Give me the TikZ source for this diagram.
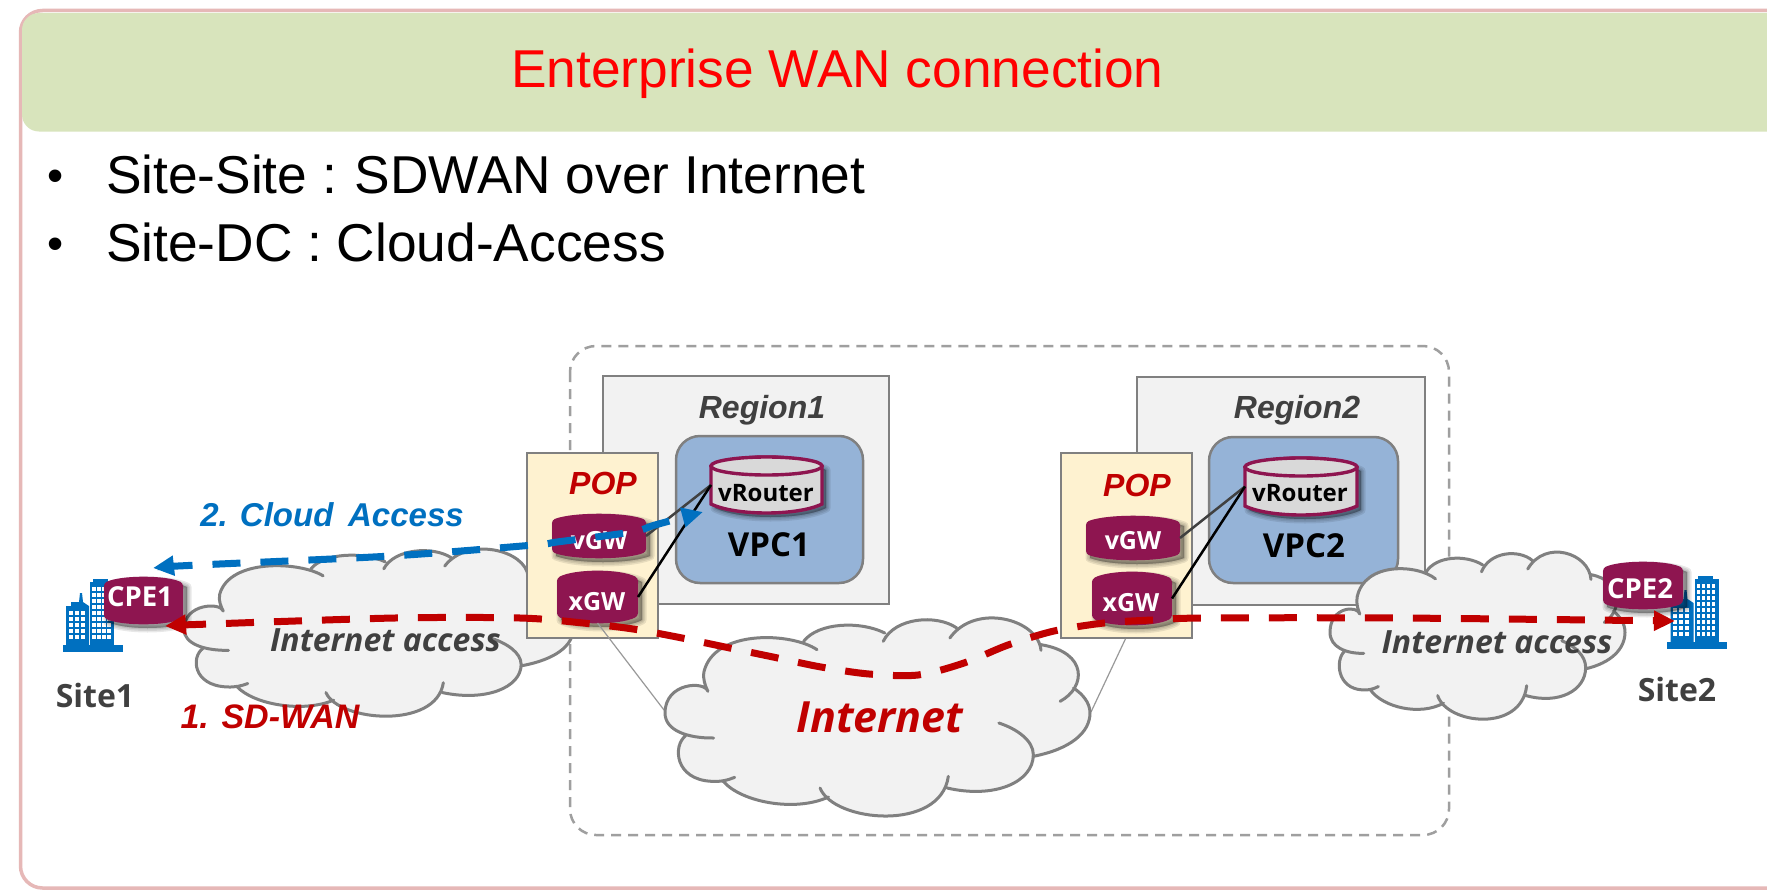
\documentclass[tikz,border=0pt]{standalone}
\usepackage{fontspec}
\setmainfont{Liberation Sans}
\newfontfamily\mg{Open Sans}
\usetikzlibrary{arrows.meta}
\definecolor{wine}{HTML}{8E1550}
\definecolor{darkred}{HTML}{C00000}
\definecolor{blu}{HTML}{0070C0}
\definecolor{grayln}{HTML}{808080}
\definecolor{grayfill}{HTML}{F2F2F2}
\definecolor{txtgray}{HTML}{404040}
\definecolor{vpcblue}{HTML}{95B3D7}
\definecolor{popfill}{HTML}{FEF2D0}
\definecolor{headgreen}{HTML}{D8E4BC}
\definecolor{framepink}{HTML}{E6B8B7}
\newcommand{\fsz}[1]{\fontsize{#1}{#1}\selectfont}
\tikzset{
  x=1pt,y=-1pt,
  boxregion/.style={draw=grayln,fill=grayfill,line width=2.5pt},
  boxvpc/.style={draw=grayln,fill=vpcblue,line width=2.5pt,rounded corners=24pt},
  boxpop/.style={draw=grayln,fill=popfill,line width=2.5pt},
  cloudline/.style={draw=grayln,line width=3pt,line cap=round},
  lbl/.style={inner sep=0pt,outer sep=0pt,align=center},
  cyltext/.style={lbl,text=white,font=\mg\bfseries\fsz{25}},
  routertext/.style={lbl,text=black,font=\mg\bfseries\fsz{24}},
  cpetext/.style={lbl,text=white,font=\mg\bfseries\fsz{27.5}},
  sitetext/.style={lbl,text=txtgray,font=\mg\bfseries\fsz{32}},
  vpctext/.style={lbl,text=black,font=\mg\bfseries\fsz{33}},
  regiontext/.style={lbl,text=txtgray,font=\bfseries\itshape\fsz{32}},
  poptext/.style={lbl,text=darkred,font=\bfseries\itshape\fsz{32}},
  accesstext/.style={lbl,text=txtgray,font=\mg\itshape\bfseries\fsz{32}},
  bodytext/.style={inner sep=0pt,outer sep=0pt,anchor=base west,font=\fsz{53.3}},
  bullettext/.style={inner sep=0pt,outer sep=0pt,anchor=base west,font=\fsz{46}},
  wan/.style={line width=7pt,dash pattern=on 28pt off 20pt,{Triangle[length=21pt,width=19pt]}-{Triangle[length=21pt,width=19pt]}},
  thinline/.style={draw=gray!80,line width=1.2pt},
}
% cylinder: x1 y1 x2 y2 bulge
\newcommand{\cylpath}[5]{%
  \pgfmathsetmacro{\cA}{#2+#5}\pgfmathsetmacro{\cB}{#4-#5}%
  \pgfmathsetmacro{\cT}{#2-#5/3}\pgfmathsetmacro{\cU}{#4+#5/3}%
  \pgfmathsetmacro{\cL}{#1+(#3-#1)*.22}\pgfmathsetmacro{\cR}{#3-(#3-#1)*.22}%
  \def\cylshape{(#1,\cA) .. controls (\cL,\cT) and (\cR,\cT) .. (#3,\cA) -- (#3,\cB) .. controls (\cR,\cU) and (\cL,\cU) .. (#1,\cB) -- cycle}%
}
\newcommand{\cylshadow}{%
  \foreach \sw in {9,6,3,0.5}{
    \path[fill=black,draw=black,line width=\sw pt,opacity=.09,line join=round,xshift=4pt,yshift=-4pt] \cylshape;
  }
}
\newcommand{\cylsolid}[5]{%
  \cylpath{#1}{#2}{#3}{#4}{#5}\cylshadow
  \path[fill=wine,rounded corners=3pt] \cylshape;
}
\newcommand{\cylrouter}[5]{%
  \cylpath{#1}{#2}{#3}{#4}{#5}\cylshadow
  \path[fill=gray!30,draw=wine,line width=3.4pt] \cylshape;
  \pgfmathsetmacro{\cM}{(#1+#3)/2}\pgfmathsetmacro{\cE}{(#3-#1)/2}\pgfmathsetmacro{\cY}{#2+#5}%
  \path[draw=wine,line width=3.4pt,fill=gray!30] (\cM,\cY) ellipse [x radius=\cE,y radius=#5];
}
% cloud
\def\cloudlobes{%
 (112,217) .. controls (104,185) and (0,190) .. (0,282) .. controls (0,335) and (60,358) .. (127,357)
 (54,350) .. controls (20,380) and (25,482) .. (122,487) .. controls (145,489) and (165,483) .. (182,475)
 (152,487) .. controls (200,550) and (340,580) .. (427,534)
 (405,507) .. controls (440,610) and (720,640) .. (740,472)
 (737,507) .. controls (860,540) and (962,490) .. (962,407) .. controls (962,365) and (920,330) .. (872,312)
 (962,412) .. controls (1060,390) and (1110,340) .. (1110,282) .. controls (1110,250) and (1090,225) .. (1067,207)
 (1032,247) .. controls (1100,205) and (1105,100) .. (982,77)
 (982,94) .. controls (975,0) and (810,-50) .. (744,57)
 (762,27) .. controls (710,-15) and (600,-5) .. (570,67)
 (574,42) .. controls (510,5) and (400,10) .. (362,67)
 (397,92) .. controls (330,40) and (130,30) .. (102,157) .. controls (98,180) and (105,200) .. (112,217)
}
\newcommand{\cloudat}[4]{%
  \pgfmathsetmacro{\csx}{#3/1110}\pgfmathsetmacro{\csy}{#4/594}%
  \begin{scope}[shift={(#1,#2)},xscale=\csx,yscale=\csy]
    \fill[grayfill] (0,282) -- (17,327) -- (54,350) -- (30,382) -- (72,467) -- (152,487) -- (312,556) -- (427,534) -- (572,594) -- (737,507) -- (892,502) -- (962,412) -- (1097,337) -- (1110,282) -- (1067,207) -- (1082,167) -- (982,77) -- (922,12) -- (762,27) -- (682,5) -- (574,42) -- (472,20) -- (362,67) -- (272,52) -- (102,157) -- (104,197) -- cycle;
    \path[fill=grayfill] \cloudlobes;
    \path[cloudline] \cloudlobes;
  \end{scope}
}
% building icon
\newcommand{\towers}[2]{%
  \begin{scope}[shift={(#1,#2)}]
    \fill[blu] (62.5,645) rectangle (122.6,652);
    \fill[blu] (66,645) -- (66,606) -- (71,606) -- (71,602) -- (79,602) -- (80,593) -- (82,593) -- (83,602) -- (89,606) -- (89,645) -- cycle;
    \fill[blu] (90,645) rectangle (114,582);
    \fill[blu] (93,582) rectangle (108,579);
    \foreach \wy in {611,617,623,629,635}{\foreach \wx in {68.5,74.5,80.5}{\fill[white] (\wx,\wy) rectangle ++(4,4);}}
    \foreach \wy in {587,593,599,605,611,617,623,629,635}{\foreach \wx in {92,97,102,107}{\fill[white] (\wx,\wy) rectangle ++(3.5,4);}}
  \end{scope}
}
\begin{document}
\begin{tikzpicture}
\path[use as bounding box] (0,0) rectangle (1767,891);
\clip (0,0) rectangle (1767,891);
\fill[white] (0,0) rectangle (1767,891);
% frame & header
\path[draw=framepink,line width=3.5pt,rounded corners=22pt] (20.5,10.5) rectangle (1800,888);
\path[fill=headgreen,rounded corners=17pt] (22,13) rectangle (1800,131.5);
\node[bodytext,text=red] (title) at (511,87.5) {Enterprise WAN connection};
\node[bullettext] (b1) at (47,191.5) {•};
\node[bodytext] (l1) at (106,193) {Site-Site :\hspace{-2pt} SDWAN over Internet};
\node[bullettext] (b2) at (47,259.5) {•};
\node[bodytext] (l2) at (106,261) {Site-DC : Cloud-Access};
% cloud boundary
\path[draw=gray!75,line width=2.5pt,dash pattern=on 10pt off 7pt,rounded corners=26pt] (570,346) rectangle (1449,835);
% regions
\path[boxregion] (603,376) rectangle (889,604);
\path[boxregion] (1137,377) rectangle (1425,605);
\node[regiontext] (reg1) at (762,410) {Region1};
\node[regiontext] (reg2) at (1297,410) {Region2};
\path[boxvpc] (676,436) rectangle (863,583);
\path[boxvpc] (1209,437) rectangle (1398,583);
\node[vpctext] (vpc1) at (769,545) {VPC1};
\node[vpctext] (vpc2) at (1304,546) {VPC2};
\cylrouter{711}{457}{822}{513}{9}
\cylrouter{1245}{458}{1357}{515}{9}
\node[routertext,minimum width=111pt,minimum height=56pt,text height=0pt,text depth=0pt] (vr1) at (766.5,485) {};
\node[routertext,minimum width=112pt,minimum height=57pt,text height=0pt,text depth=0pt] (vr2) at (1301,486.5) {};
\node[routertext] (vr1t) at (766,493) {vRouter};
\node[routertext] (vr2t) at (1300,493) {vRouter};
% lines behind POP2
\coordinate (xgwTwoFoot) at (1132,625);
\coordinate (inetRight) at (1091,712);
\draw[thinline] (xgwTwoFoot) -- (inetRight);
% access clouds
\cloudat{184}{550}{389}{167}
\cloudat{1330}{553}{295}{167}
% POPs
\path[boxpop] (527,453) rectangle (658,638);
\path[boxpop] (1061,453) rectangle (1192,638);
\node[poptext] (pop1) at (603,483) {POP};
\node[poptext] (pop2) at (1137,485) {POP};
% gateways
\cylsolid{552}{514}{646}{558}{6}
\node[cyltext,minimum width=94pt,minimum height=44pt] (vgw1) at (599,536) {};
\node[cyltext] (vgw1t) at (599,541) {vGW};
\cylsolid{557}{571}{638}{623}{7}
\node[cyltext,minimum width=81pt,minimum height=52pt] (xgw1) at (597.5,597) {};
\node[cyltext] (xgw1t) at (597,602) {xGW};
\cylsolid{1086}{516}{1180}{560}{6}
\node[cyltext,minimum width=94pt,minimum height=44pt] (vgw2) at (1133,538) {};
\node[cyltext] (vgw2t) at (1133,541) {vGW};
\cylsolid{1092}{572}{1172}{625}{7}
\node[cyltext,minimum width=80pt,minimum height=53pt] (xgw2) at (1132,598.5) {};
\node[cyltext] (xgw2t) at (1131,603) {xGW};
% connectors to routers
\draw[draw=txtgray,line width=2.5pt] (vgw1.east) -- (vr1.west);
\draw[draw=black,line width=2.5pt] (xgw1.east) -- (vr1.west);
\draw[draw=txtgray,line width=2.5pt] (vgw2.east) -- (vr2.west);
\draw[draw=black,line width=2.5pt] (xgw2.east) -- (vr2.west);
% thin line and Internet cloud
\coordinate (inetLeft) at (664,710);
\draw[thinline] (xgw1.south) -- (inetLeft);
\cloudat{665}{619}{425}{198}
\node[lbl,text=darkred,font=\mg\bfseries\itshape\fsz{43}] (inet) at (880,717) {Internet};
\node[accesstext] (ia1) at (385.5,640) {Internet access};
\node[accesstext] (ia2) at (1497,642) {Internet access};
% sites
\towers{0}{0}
\towers{1604.5}{-3}
\cylsolid{104}{577}{183}{624}{6}
\node[cpetext,minimum width=79pt,minimum height=47pt] (cpe1) at (143.5,600.5) {};
\node[cpetext] (cpe1t) at (140,597) {CPE1};
\cylsolid{1603}{562}{1683}{609}{6}
\node[cpetext,minimum width=80pt,minimum height=47pt] (cpe2) at (1643,585.5) {};
\node[cpetext] (cpe2t) at (1640,589) {CPE2};
\node[sitetext] (s1) at (95,695) {Site1};
\node[sitetext] (s2) at (1677,689) {Site2};
% SD-WAN path
\coordinate (redL) at (165,626);
\coordinate (redR) at (1675,621);
\draw[wan,draw=darkred] plot[smooth,tension=.5] coordinates {(redL)(210,624)(395,618)(520,618)(583,623)(633,629)(677,637)(725,647)(773,657)(821,667)(869,674)(918,675)(964,663)(1008,645)(1054,631)(1104,623)(1152,620)(1204,618)(1400,618)(redR)};
% Cloud access path
\coordinate (bluL) at (153,568);
\coordinate (bluR) at (703,512);
\draw[wan,draw=blu] plot[smooth,tension=.5] coordinates {(bluL)(198,565)(391,556)(534,545)(557,542)(632,532)(655,525)(bluR)};
\node[lbl,text=blu,font=\bfseries\itshape\fsz{33}] (la2) at (332,515) {2. Cloud\ \,Access};
\node[lbl,text=darkred,font=\bfseries\itshape\fsz{34}] (la1) at (270,717) {1. SD-WAN};
\end{tikzpicture}
\end{document}
